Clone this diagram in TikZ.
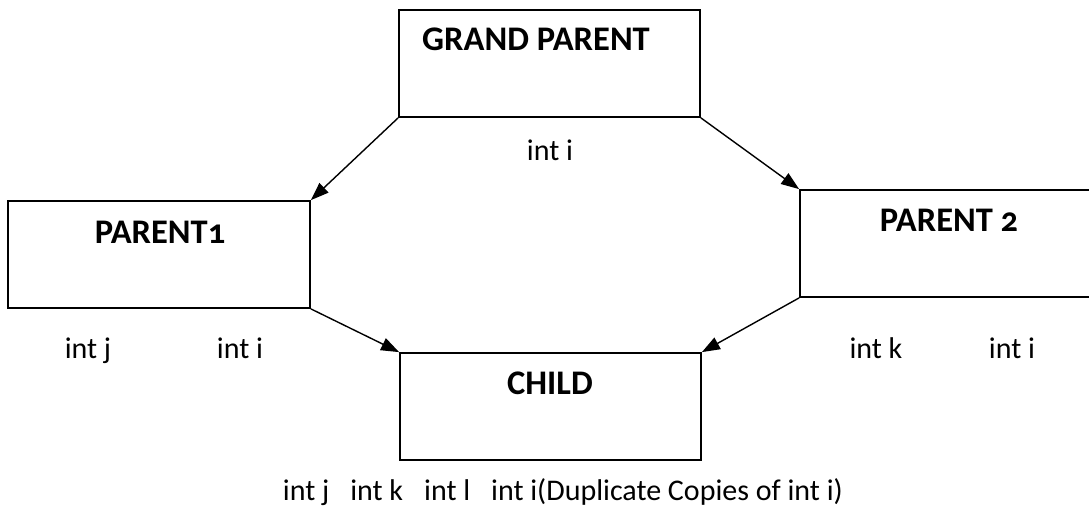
\documentclass[tikz,border=0pt]{standalone}
\usepackage{fontspec}
\setmainfont{Carlito}[Numbers=OldStyle]
\usetikzlibrary{arrows.meta}
\tikzset{
  box/.style={draw=black, line width=1.8pt, rectangle, inner sep=0pt},
  title/.style={font=\fontsize{34.5}{40}\selectfont\bfseries},
  var/.style={font=\fontsize{30}{36}\selectfont, anchor=base},
  link/.style={draw=black, line width=1.4pt, -{Triangle[length=18pt,width=13pt]}}
}
\begin{document}
\begin{tikzpicture}[x=1pt,y=-1pt]
\useasboundingbox (0,0) rectangle (1089,520);
\node (gp) [box, minimum width=301pt, minimum height=107pt] at (549.5,63.5) {};
\node (pa) [box, minimum width=302pt, minimum height=107pt] at (159,254.5) {};
\node (pb) [box, minimum width=300pt, minimum height=107pt] at (950,243.5) {};
\node (ch) [box, minimum width=301pt, minimum height=107pt] at (550.5,406.5) {};
\node[title] (gpt) at (536,39) {GRAND PARENT};
\node[title] (pat) at (160,232) {PARENT1};
\node[title] (pbt) at (949,220) {PARENT 2};
\node[title] (cht) at (550,383) {CHILD};
\node[var] (gpi) at (550,160) {int i};
\node[var] (paj) at (88,358) {int j};
\node[var] (pai) at (240,358) {int i};
\node[var] (pbk) at (876,358) {int k};
\node[var] (pbi) at (1012,358) {int i};
\node[var] (chv) at (563,500) {int j\hspace{0.7em}int k\hspace{0.7em}int l\hspace{0.7em}int i(Duplicate Copies of int i)};
\draw[link] (gp.south west) -- (pa.north east);
\draw[link] (gp.south east) -- (pb.north west);
\draw[link] (pa.south east) -- (ch.north west);
\draw[link] (pb.south west) -- (ch.north east);
\end{tikzpicture}
\end{document}
